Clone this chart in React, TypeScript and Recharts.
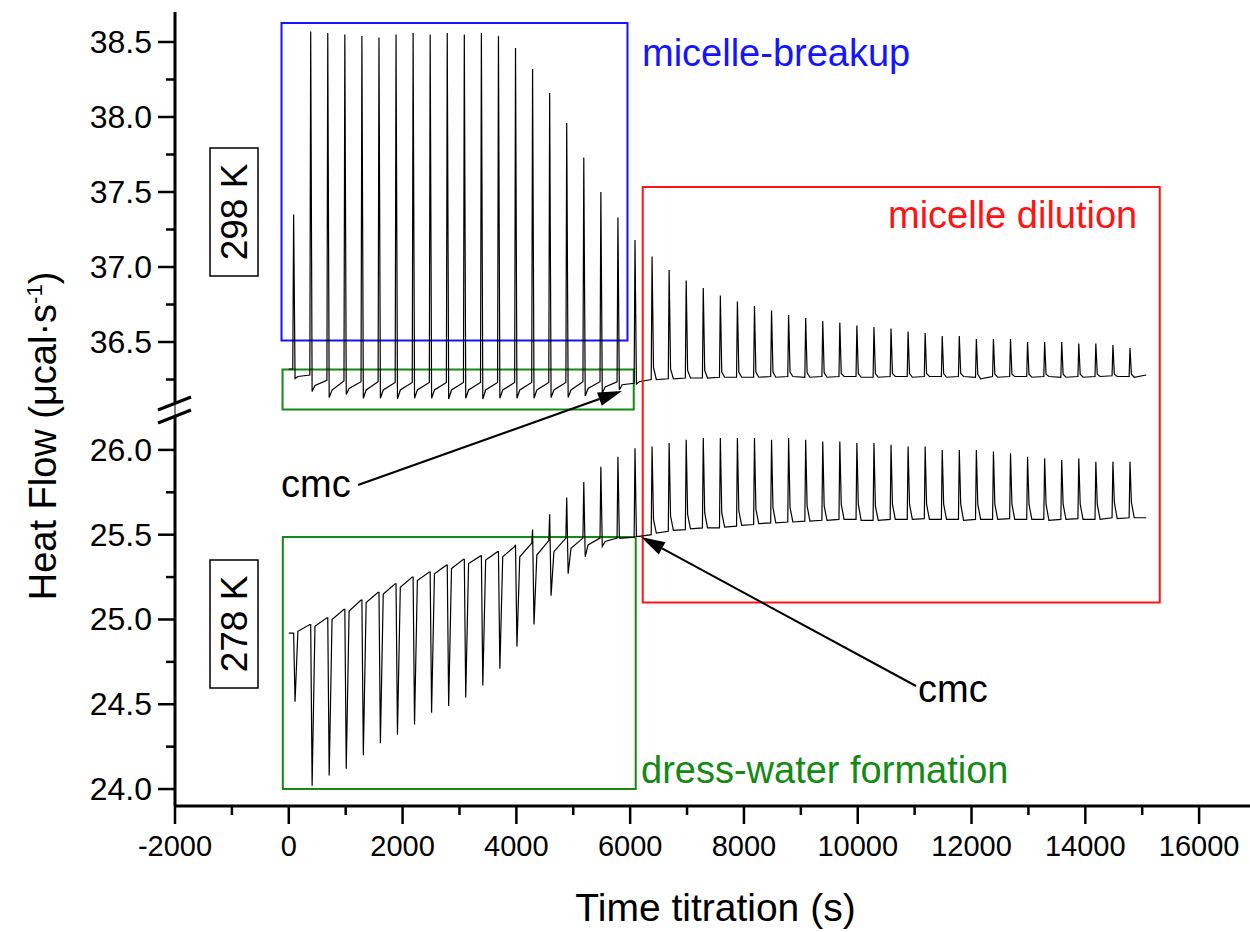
import React from "react";
import { LineChart, Line, XAxis, YAxis, ReferenceArea } from "recharts";

const FONT = '"Liberation Sans", Arial, Helvetica, sans-serif';

// injection schedule (s) and record length
const injectionTimes = [
  70, 370, 670, 970, 1270, 1570, 1870, 2170, 2470, 2770,
  3070, 3370, 3670, 3970, 4270, 4570, 4870, 5170, 5470, 5770,
  6070, 6370, 6670, 6970, 7270, 7570, 7870, 8170, 8470, 8770,
  9070, 9370, 9670, 9970, 10270, 10570, 10870, 11170, 11470, 11770,
  12070, 12370, 12670, 12970, 13270, 13570, 13870, 14170, 14470, 14770,
];
const traceStart = 0;
const traceEnd = 15070;

// 298 K run: level before each injection, spike maximum, value ~40 s after, value ~90 s after
const topBase = [
  36.32, 36.28, 36.245, 36.24, 36.235, 36.235, 36.23, 36.23, 36.23, 36.23,
  36.23, 36.23, 36.23, 36.23, 36.23, 36.23, 36.23, 36.235, 36.235, 36.235,
  36.225, 36.25, 36.255, 36.26, 36.26, 36.265, 36.265, 36.265, 36.27, 36.27,
  36.265, 36.27, 36.27, 36.27, 36.265, 36.27, 36.27, 36.27, 36.27, 36.27,
  36.265, 36.27, 36.27, 36.27, 36.27, 36.265, 36.27, 36.27, 36.275, 36.27,
];
const topHigh = [
  37.35, 38.57, 38.56, 38.55, 38.54, 38.53, 38.55, 38.56, 38.55, 38.56,
  38.55, 38.56, 38.54, 38.46, 38.32, 38.16, 37.96, 37.73, 37.5, 37.33,
  37.18, 37.07, 36.98, 36.91, 36.86, 36.81, 36.77, 36.74, 36.71, 36.68,
  36.66, 36.64, 36.63, 36.61, 36.6, 36.59, 36.57, 36.56, 36.54, 36.54,
  36.52, 36.52, 36.52, 36.5, 36.5, 36.5, 36.49, 36.49, 36.48, 36.46,
];
const topLow = [
  36.256, 36.17, 36.13, 36.15, 36.125, 36.125, 36.12, 36.125, 36.125, 36.12,
  36.125, 36.12, 36.125, 36.125, 36.125, 36.13, 36.13, 36.14, 36.16, 36.18,
  36.22, 36.33, 36.32, 36.31, 36.31, 36.3, 36.3, 36.3, 36.3, 36.3,
  36.295, 36.295, 36.29, 36.29, 36.29, 36.29, 36.29, 36.29, 36.29, 36.29,
  36.285, 36.285, 36.285, 36.285, 36.285, 36.285, 36.285, 36.285, 36.285, 36.285,
];
const topRecover = [
  36.27, 36.21, 36.18, 36.19, 36.18, 36.18, 36.18, 36.18, 36.18, 36.18,
  36.18, 36.18, 36.18, 36.18, 36.18, 36.18, 36.18, 36.19, 36.2, 36.215,
  36.235, 36.25, 36.255, 36.26, 36.26, 36.265, 36.265, 36.265, 36.265, 36.27,
  36.265, 36.265, 36.27, 36.265, 36.265, 36.27, 36.265, 36.27, 36.265, 36.27,
  36.255, 36.265, 36.27, 36.265, 36.27, 36.265, 36.265, 36.27, 36.27, 36.265,
];
const topEnd = 36.28;

// 278 K run
const bottomBase = [
  24.92, 24.97, 25.01, 25.06, 25.115, 25.16, 25.21, 25.25, 25.28, 25.32,
  25.355, 25.375, 25.4, 25.43, 25.45, 25.465, 25.48, 25.48, 25.48, 25.48,
  25.485, 25.5, 25.52, 25.53, 25.54, 25.54, 25.55, 25.56, 25.57, 25.575,
  25.58, 25.585, 25.59, 25.59, 25.585, 25.59, 25.59, 25.595, 25.59, 25.59,
  25.59, 25.59, 25.595, 25.59, 25.59, 25.59, 25.595, 25.59, 25.6, 25.6,
];
const bottomHigh = [
  24.92, 24.97, 25.01, 25.06, 25.115, 25.16, 25.21, 25.25, 25.28, 25.32,
  25.355, 25.375, 25.4, 25.44, 25.53, 25.62, 25.72, 25.81, 25.9, 25.96,
  26.01, 26.02, 26.04, 26.06, 26.07, 26.07, 26.07, 26.07, 26.06, 26.07,
  26.06, 26.05, 26.05, 26.04, 26.04, 26.03, 26.02, 26.02, 26.0, 26.0,
  26.0, 25.99, 25.98, 25.96, 25.95, 25.94, 25.95, 25.93, 25.93, 25.93,
];
const bottomLow = [
  24.515, 24.02, 24.08, 24.12, 24.2, 24.27, 24.32, 24.38, 24.45, 24.49,
  24.54, 24.61, 24.71, 24.84, 24.97, 25.14, 25.27, 25.37, 25.43, 25.48,
  25.49, 25.59, 25.61, 25.62, 25.63, 25.63, 25.64, 25.65, 25.66, 25.66,
  25.67, 25.67, 25.68, 25.68, 25.67, 25.68, 25.68, 25.68, 25.68, 25.68,
  25.68, 25.68, 25.68, 25.68, 25.68, 25.68, 25.68, 25.68, 25.69, 25.69,
];
const bottomRecover = [
  24.93, 24.96, 25.0, 25.05, 25.1, 25.15, 25.19, 25.23, 25.27, 25.3,
  25.33, 25.35, 25.37, 25.37, 25.38, 25.4, 25.42, 25.44, 25.46, 25.48,
  25.49, 25.51, 25.525, 25.535, 25.54, 25.545, 25.555, 25.565, 25.57, 25.575,
  25.58, 25.585, 25.59, 25.585, 25.585, 25.59, 25.59, 25.59, 25.59, 25.585,
  25.59, 25.59, 25.59, 25.59, 25.585, 25.59, 25.59, 25.59, 25.595, 25.6,
];
const bottomEnd = 25.6;

// axes
const xDomain = [-2000, 17000];
const xTicks = [
  -2000, -1000, 0, 1000, 2000, 3000, 4000, 5000, 6000, 7000, 8000,
  9000, 10000, 11000, 12000, 13000, 14000, 15000, 16000,
];
const topDomain = [36.1, 38.7];
const topTicks = [36.25, 36.5, 36.75, 37, 37.25, 37.5, 37.75, 38, 38.25, 38.5];
const bottomDomain = [23.9, 26.2];
const bottomTicks = [24, 24.25, 24.5, 24.75, 25, 25.25, 25.5, 25.75, 26];

// highlighted regions (time s, heat flow)
const breakupBox = { x1: -128, x2: 5953, y1: 36.51, y2: 38.627 };
const dressTopBox = { x1: -110, x2: 6063, y1: 36.05, y2: 36.317 };
const dressBottomBox = { x1: -105, x2: 6098, y1: 24.0, y2: 25.487 };
const dilutionBox = { x1: 6221, x2: 15308, y1: 25.1, y2: 27.55 };

type Pt = { t: number; v: number };

function buildTrace(base: number[], high: number[], low: number[], recover: number[], endValue: number): Pt[] {
  const pts: Pt[] = [{ t: traceStart, v: base[0] }];
  injectionTimes.forEach((t, k) => {
    pts.push({ t, v: base[k] });
    pts.push({ t: t + 15, v: high[k] });
    pts.push({ t: t + 40, v: low[k] });
    pts.push({ t: t + 90, v: recover[k] });
  });
  pts.push({ t: traceEnd, v: endValue });
  return pts;
}

const topTrace = buildTrace(topBase, topHigh, topLow, topRecover, topEnd);
const bottomTrace = buildTrace(bottomBase, bottomHigh, bottomLow, bottomRecover, bottomEnd);

const CHART_W = 1300;
const AXIS_W = 175;
const MARGIN = { top: 0, right: 44, bottom: 0, left: 0 };
const TICK_STROKE = 2.5;

function XTick(props: any) {
  const { x, y, payload } = props;
  const v = payload.value;
  const major = v % 2000 === 0;
  return (
    <g>
      <line x1={x} x2={x} y1={y} y2={y + (major ? 18 : 9)} stroke="#000" strokeWidth={TICK_STROKE} />
      {major && (
        <text x={x} y={y + 50} textAnchor="middle" fontSize={29} fontFamily={FONT} fill="#000">
          {v}
        </text>
      )}
    </g>
  );
}

function YTick(props: any) {
  const { x, y, payload } = props;
  const v = payload.value;
  const major = Math.abs(v * 2 - Math.round(v * 2)) < 1e-6;
  return (
    <g>
      <line x1={x - (major ? 17 : 9)} x2={x} y1={y} y2={y} stroke="#000" strokeWidth={TICK_STROKE} />
      {major && (
        <text x={x - 23} y={y + 11} textAnchor="end" fontSize={32} fontFamily={FONT} fill="#000">
          {v.toFixed(1)}
        </text>
      )}
    </g>
  );
}

function Arrow({ x1, y1, x2, y2 }: { x1: number; y1: number; x2: number; y2: number }) {
  const len = Math.hypot(x2 - x1, y2 - y1);
  const ux = (x2 - x1) / len;
  const uy = (y2 - y1) / len;
  const hl = 24;
  const hw = 7;
  const bx = x2 - ux * hl;
  const by = y2 - uy * hl;
  const pts = `${x2},${y2} ${bx - uy * hw},${by + ux * hw} ${bx + uy * hw},${by - ux * hw}`;
  return (
    <g>
      <line x1={x1} y1={y1} x2={bx} y2={by} stroke="#000" strokeWidth={2} />
      <polygon points={pts} fill="#000" />
    </g>
  );
}

const areaStyle = { fill: "none", strokeWidth: 2, ifOverflow: "visible" as const };

export default function App() {
  return (
    <div
      style={{
        position: "absolute",
        left: 0,
        top: 0,
        width: 1250,
        height: 932,
        overflow: "hidden",
        background: "#fff",
        fontFamily: FONT,
      }}
    >
      <style>{`.recharts-surface{overflow:visible}`}</style>

      {/* 298 K panel */}
      <div style={{ position: "absolute", left: 0, top: 0 }}>
        <LineChart width={CHART_W} height={402} data={topTrace} margin={{ ...MARGIN, top: 12 }}>
          <XAxis dataKey="t" type="number" domain={xDomain} allowDataOverflow hide />
          <XAxis
            xAxisId="frame"
            orientation="top"
            type="number"
            domain={xDomain}
            height={0}
            tick={false}
            tickLine={false}
            axisLine={{ stroke: "#8a8a8a", strokeWidth: 1.5 }}
          />
          <YAxis
            type="number"
            domain={topDomain}
            ticks={topTicks}
            interval={0}
            allowDataOverflow
            width={AXIS_W}
            tickSize={0}
            tickMargin={0}
            tickLine={false}
            axisLine={{ stroke: "#000", strokeWidth: 3 }}
            tick={(p: any) => <YTick {...p} />}
          />
          <ReferenceArea {...breakupBox} stroke="#1414ff" {...areaStyle} />
          <ReferenceArea {...dressTopBox} stroke="#138a13" {...areaStyle} />
          <Line
            dataKey="v"
            type="linear"
            stroke="#000"
            strokeWidth={1.2}
            dot={false}
            isAnimationActive={false}
          />
        </LineChart>
      </div>

      {/* 278 K panel */}
      <div style={{ position: "absolute", left: 0, top: 416 }}>
        <LineChart width={CHART_W} height={510} data={bottomTrace} margin={MARGIN}>
          <XAxis
            dataKey="t"
            type="number"
            domain={xDomain}
            ticks={xTicks}
            interval={0}
            allowDataOverflow
            height={120}
            tickSize={0}
            tickMargin={0}
            tickLine={false}
            axisLine={{ stroke: "#000", strokeWidth: 3 }}
            tick={(p: any) => <XTick {...p} />}
            label={{
              value: "Time titration (s)",
              position: "insideBottom",
              offset: 5,
              fontSize: 39,
              fontFamily: FONT,
              fill: "#000",
            }}
          />
          <YAxis
            type="number"
            domain={bottomDomain}
            ticks={bottomTicks}
            interval={0}
            allowDataOverflow
            width={AXIS_W}
            tickSize={0}
            tickMargin={0}
            tickLine={false}
            axisLine={{ stroke: "#000", strokeWidth: 3 }}
            tick={(p: any) => <YTick {...p} />}
          />
          <ReferenceArea {...dressBottomBox} stroke="#138a13" {...areaStyle} />
          <ReferenceArea {...dilutionBox} stroke="#ff1414" {...areaStyle} />
          <Line
            dataKey="v"
            type="linear"
            stroke="#000"
            strokeWidth={1.2}
            dot={false}
            isAnimationActive={false}
          />
        </LineChart>
      </div>

      {/* labels, arrows and axis break */}
      <svg
        width={1250}
        height={932}
        style={{ position: "absolute", left: 0, top: 0, pointerEvents: "none" }}
        fontFamily={FONT}
      >
        <line x1={175} y1={403} x2={175} y2={416} stroke="#000" strokeWidth={1} />
        <line x1={158} y1={410} x2={191} y2={397} stroke="#000" strokeWidth={3} />
        <line x1={158} y1={423} x2={191} y2={410} stroke="#000" strokeWidth={3} />

        <text transform="translate(56, 436) rotate(-90)" textAnchor="middle" fontSize={38} fill="#000">
          Heat Flow (μcal·s
          <tspan dy={-14} fontSize={22}>-1</tspan>
          <tspan dy={14}>)</tspan>
        </text>

        <rect x={210} y={148} width={48} height={128} fill="#fff" stroke="#000" strokeWidth={1.5} />
        <text transform="translate(247, 212) rotate(-90)" textAnchor="middle" fontSize={37} fill="#000">
          298 K
        </text>
        <rect x={210} y={560} width={48} height={128} fill="#fff" stroke="#000" strokeWidth={1.5} />
        <text transform="translate(247, 624) rotate(-90)" textAnchor="middle" fontSize={37} fill="#000">
          278 K
        </text>

        <text x={642} y={66} fontSize={38} fill="#1414ff">micelle-breakup</text>
        <text x={888} y={228} fontSize={38} fill="#ff1414">micelle dilution</text>
        <text x={641} y={783} fontSize={38} fill="#138a13">dress-water formation</text>

        <text x={281} y={497} fontSize={38} fill="#000">cmc</text>
        <Arrow x1={358} y1={485} x2={622} y2={391} />
        <text x={918} y={702} fontSize={38} fill="#000">cmc</text>
        <Arrow x1={916} y1={686} x2={641} y2={537} />
      </svg>
    </div>
  );
}
